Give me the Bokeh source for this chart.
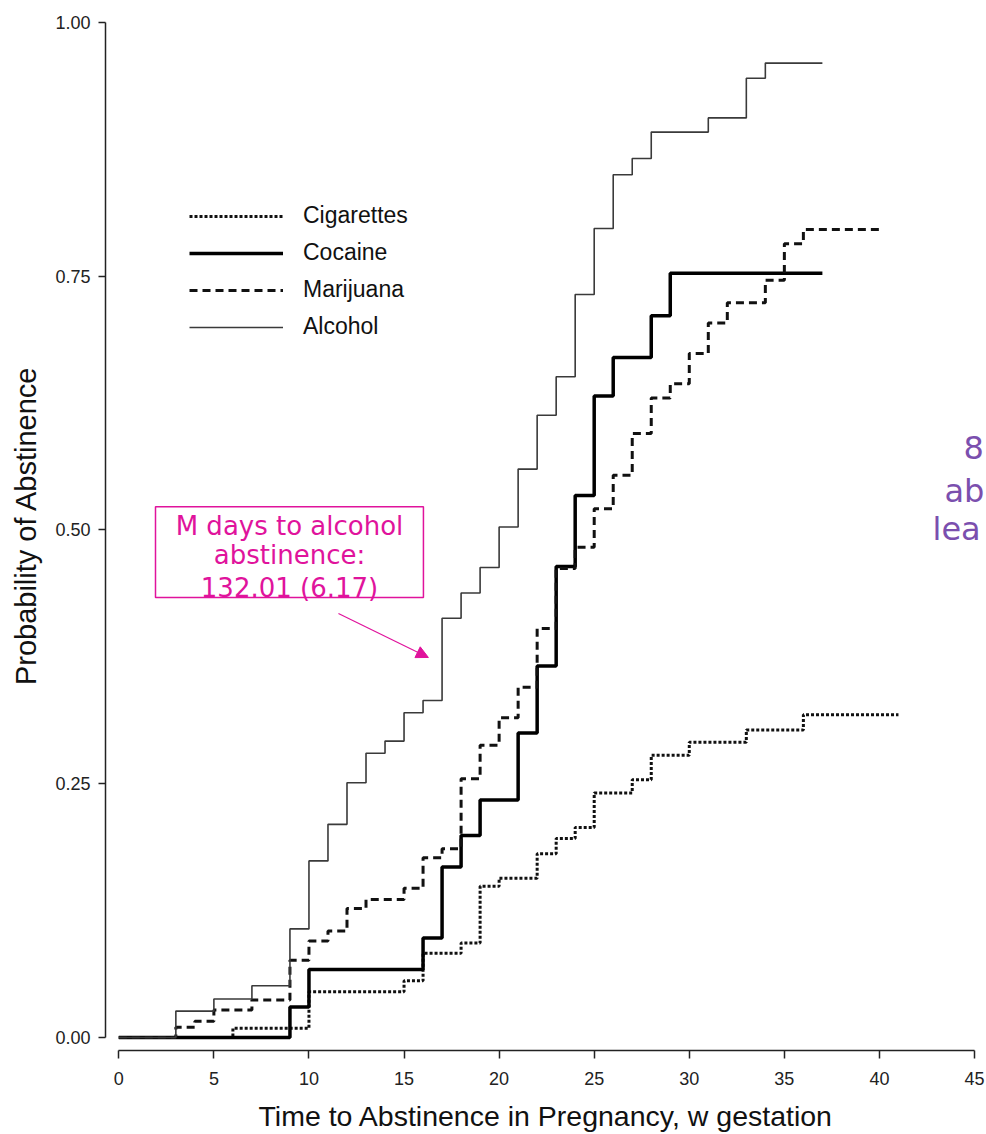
from bokeh.plotting import figure
from bokeh.models import (Range1d, FixedTicker, PrintfTickFormatter, Legend, LegendItem,
                          Arrow, NormalHead, BoxAnnotation)
from bokeh.core.properties import value
from bokeh.embed import file_html
from bokeh.resources import INLINE

# ---------------- data ----------------
cig_weeks = [0, 6, 10, 15, 16, 18, 19, 20, 22, 23, 24, 25, 27, 28, 30, 33, 36]
cig_prob = [0.0, 0.009, 0.045, 0.056, 0.083, 0.093, 0.149, 0.157, 0.181, 0.196, 0.207,
            0.241, 0.254, 0.278, 0.291, 0.303, 0.318]
cig_end = 41

coc_weeks = [0, 9, 10, 16, 17, 18, 19, 21, 22, 23, 24, 25, 26, 28, 29]
coc_prob = [0.0, 0.03, 0.067, 0.098, 0.168, 0.199, 0.234, 0.30, 0.366, 0.464, 0.534,
            0.632, 0.67, 0.711, 0.753]
coc_end = 37

mar_weeks = [0, 3, 4, 5, 7, 9, 10, 11, 12, 13, 15, 16, 17, 18, 19, 20, 21, 22, 23, 24,
             25, 26, 27, 28, 29, 30, 31, 32, 34, 35, 36]
mar_prob = [0.0, 0.01, 0.016, 0.027, 0.037, 0.076, 0.095, 0.105, 0.127, 0.136, 0.147,
            0.177, 0.186, 0.255, 0.288, 0.315, 0.345, 0.403, 0.462, 0.483, 0.521, 0.554,
            0.595, 0.63, 0.644, 0.674, 0.704, 0.724, 0.746, 0.782, 0.796]
mar_end = 40

alc_weeks = [0, 3, 5, 7, 9, 10, 11, 12, 13, 14, 15, 16, 17, 18, 19, 20, 21, 22, 23, 24,
             25, 26, 27, 28, 31, 33, 34]
alc_prob = [0.0, 0.026, 0.038, 0.051, 0.107, 0.174, 0.21, 0.251, 0.28, 0.292, 0.32, 0.332,
            0.413, 0.438, 0.463, 0.503, 0.56, 0.613, 0.651, 0.732, 0.797, 0.85, 0.866,
            0.892, 0.906, 0.945, 0.96]
alc_end = 37

series_names = ["Cigarettes", "Cocaine", "Marijuana", "Alcohol"]
x_ticks = [0, 5, 10, 15, 20, 25, 30, 35, 40, 45]
y_ticks = [0.0, 0.25, 0.5, 0.75, 1.0]

note_lines = ["M days to alcohol", "abstinence:", "132.01 (6.17)"]
side_lines = ["8", "ab", "lea"]

# ---------------- styling / layout ----------------
MAGENTA = "#E0139C"
PURPLE = "#7B4FAE"
FONT = "Liberation Sans"

p = figure(width=986, height=1134, output_backend="svg", toolbar_location=None,
           title=None,
           x_range=Range1d(-0.6995, 45.63), y_range=Range1d(-0.01281, 1.02167),
           min_border_left=105, min_border_right=0, min_border_top=0,
           min_border_bottom=84)
p.outline_line_color = None
p.xgrid.visible = False
p.ygrid.visible = False
p.background_fill_color = "white"
p.border_fill_color = "white"


def stepped(weeks, prob, end):
    return list(weeks) + [end], list(prob) + [prob[-1]]


x, y = stepped(cig_weeks, cig_prob, cig_end)
r_cig = p.step(x, y, mode="after", line_color="#111111", line_width=3, line_dash="3 2")
x, y = stepped(coc_weeks, coc_prob, coc_end)
r_coc = p.step(x, y, mode="after", line_color="#000000", line_width=3.5)
x, y = stepped(mar_weeks, mar_prob, mar_end)
r_mar = p.step(x, y, mode="after", line_color="#111111", line_width=3, line_dash="8 5")
x, y = stepped(alc_weeks, alc_prob, alc_end)
r_alc = p.step(x, y, mode="after", line_color="#3a3a3a", line_width=1.6)

# axes
for ax in (p.xaxis[0], p.yaxis[0]):
    ax.axis_line_color = "#222222"
    ax.axis_line_width = 1.5
    ax.major_tick_line_color = "#222222"
    ax.major_tick_line_width = 1.5
    ax.minor_tick_line_color = None
    ax.major_tick_in = 0
    ax.major_label_text_font = FONT
    ax.major_label_text_color = "#222222"
    ax.axis_label_text_font = FONT
    ax.axis_label_text_font_style = "normal"
    ax.axis_label_text_color = "#111111"

p.xaxis[0].ticker = FixedTicker(ticks=x_ticks)
p.xaxis[0].bounds = (x_ticks[0], x_ticks[-1])
p.xaxis[0].major_tick_out = 8
p.xaxis[0].major_label_standoff = 13
p.xaxis[0].major_label_text_font_size = "18px"
p.xaxis[0].axis_label = "Time to Abstinence in Pregnancy, w gestation"
p.xaxis[0].axis_label_standoff = 12
p.xaxis[0].axis_label_text_font_size = "28.5px"

p.yaxis[0].ticker = FixedTicker(ticks=y_ticks)
p.yaxis[0].formatter = PrintfTickFormatter(format="%.2f")
p.yaxis[0].bounds = (y_ticks[0], y_ticks[-1])
p.yaxis[0].major_tick_out = 7
p.yaxis[0].major_label_standoff = 8
p.yaxis[0].major_label_text_font_size = "18px"
p.yaxis[0].axis_label = "Probability of Abstinence"
p.yaxis[0].axis_label_standoff = 10
p.yaxis[0].axis_label_text_font_size = "29px"

# legend
legend = Legend(items=[LegendItem(label=n, renderers=[r]) for n, r in
                       zip(series_names, [r_cig, r_coc, r_mar, r_alc])],
                location=(84, 710), border_line_color=None, background_fill_alpha=0,
                padding=0, margin=0, spacing=10, glyph_width=94, glyph_height=20,
                label_height=20, label_standoff=20, label_text_font=FONT,
                label_text_font_size="23px", label_text_color="#111111")
p.add_layout(legend)

# annotation box + text + arrow
p.add_layout(BoxAnnotation(left=1.93, right=16.02, bottom=0.4335, top=0.523,
                           fill_color=None, fill_alpha=0, line_color=MAGENTA,
                           line_alpha=1.0, line_width=1.5))
p.text(x=[8.977] * 3, y=[0.5044, 0.4749, 0.4433], text=note_lines,
       text_font=value("DejaVu Sans"), text_font_size="26px", text_color=MAGENTA,
       text_align="center", text_baseline="middle")
p.add_layout(Arrow(end=NormalHead(size=12, fill_color=MAGENTA, line_color=MAGENTA),
                   x_start=11.55, y_start=0.4177, x_end=16.28, y_end=0.3744,
                   line_color=MAGENTA, line_width=1.2))

# partially visible slide text at right edge
p.text(x=[44.42, 43.42, 42.79], y=[0.5813, 0.538, 0.5005], text=side_lines,
       text_font=value("DejaVu Sans"), text_font_size="32px", text_color=PURPLE,
       text_align="left", text_baseline="alphabetic")

open("out.html", "w").write(file_html(p, INLINE))
